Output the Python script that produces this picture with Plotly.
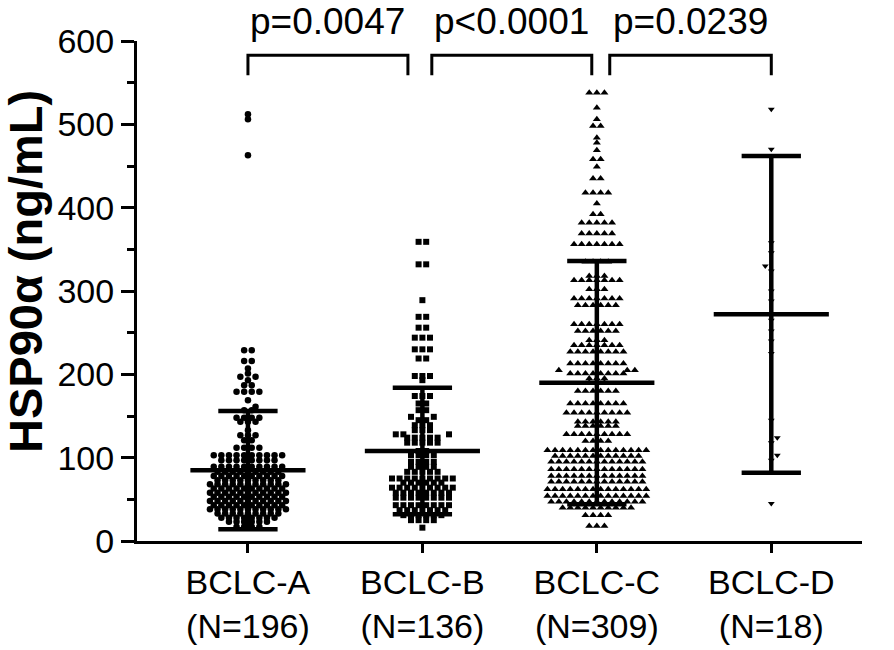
import plotly.graph_objects as go

# ---------------- data ----------------
categories = ["BCLC-A", "BCLC-B", "BCLC-C", "BCLC-D"]
n_labels = ["(N=196)", "(N=136)", "(N=309)", "(N=18)"]
y_title = "HSP90α (ng/mL)"

# value rows and number of dots in each row
a_levels = [512, 506, 463, 229, 216, 207, 201, 197, 193, 187, 179, 169, 161, 157, 148, 143, 133, 127, 121, 112,
            103, 97, 89, 83, 78, 73, 68, 63, 58, 53, 48, 43, 38, 33, 28, 23, 17]
a_counts = [1, 1, 1, 2, 2, 1, 1, 2, 1, 2, 4, 1, 1, 2, 4, 3, 1, 3, 2, 4,
            10, 8, 10, 9, 10, 9, 11, 10, 11, 10, 11, 10, 11, 9, 8, 6, 4]

b_levels = [359, 332, 289, 269, 256, 244, 230, 219, 198, 193, 174, 165, 157, 149, 145, 139, 133, 128, 124, 118,
            108, 103, 95, 89, 83, 75, 70, 64, 58, 52, 43, 37, 31, 25, 16]
b_counts = [2, 2, 1, 2, 2, 3, 3, 2, 3, 1, 3, 2, 2, 2, 2, 3, 3, 3, 5, 5,
            2, 4, 4, 4, 5, 9, 6, 9, 8, 8, 8, 7, 6, 4, 1]

c_levels = [538, 520, 506, 498, 484, 478, 469, 458, 449, 435, 418, 405, 392, 382, 369, 356,
            335, 318, 313, 302, 291, 283, 260, 252, 241, 235, 227, 213, 205, 201, 195, 190, 180,
            165, 154, 143, 138, 128, 120, 109, 102, 95, 86, 78, 71, 62, 54, 47, 40, 31, 18]
c_counts = [3, 1, 1, 2, 1, 1, 1, 2, 1, 2, 4, 1, 2, 5, 5, 7,
            4, 3, 7, 3, 7, 6, 7, 6, 3, 7, 8, 8, 3, 8, 3, 3, 6,
            8, 9, 6, 6, 9, 4, 14, 12, 13, 13, 13, 13, 14, 14, 13, 10, 4, 3]

d_values = [518, 470, 358, 346, 330, 324, 300, 288, 265, 252, 240, 225, 145, 124, 118, 103, 97, 45]

# mean and SD
means = [85, 108, 190, 272]
sds = [71, 76, 146, 190]

p_labels = ["p=0.0047", "p<0.0001", "p=0.0239"]
p_pairs = [(0.0, 0.917), (1.054, 1.971), (2.074, 3.0)]

# ---------------- layout constants ----------------
W, H = 894, 650
ML, MR, MT, MB = 137, 32, 41, 109
XR = [-0.636, 3.52]
YR = [0, 600]
PLOT_W = W - ML - MR
PLOT_H = H - MT - MB
PX_X = PLOT_W / (XR[1] - XR[0])
PX_Y = PLOT_H / (YR[1] - YR[0])
FONT = "Arial, Liberation Sans, sans-serif"


def expand(levels, counts):
    out = []
    for v, c in zip(levels, counts):
        out += [v] * c
    return out


def swarm(vals, md, hy):
    """place dots in rows: dots collide when |dy| < hy and |dx| < md (pixels)"""
    vals = sorted(vals)
    xs, ys = [], []
    for i, v in enumerate(vals):
        y = v * PX_Y
        iv = [(xj - md, xj + md) for xj, yj in zip(xs, ys) if abs(y - yj) < hy]
        cands = [0.0] + [a for a, b in iv] + [b for a, b in iv]
        sgn = 1 if i % 2 else -1
        cands.sort(key=lambda c: (round(abs(c), 6), c * sgn))
        chosen = 0.0
        for c in cands:
            if all(not (a + 1e-6 < c < b - 1e-6) for a, b in iv):
                chosen = c
                break
        xs.append(chosen)
        ys.append(y)
    # centre rows of identical values
    out_x = list(xs)
    j = 0
    while j < len(vals):
        k = j
        while k < len(vals) and vals[k] == vals[j]:
            k += 1
        if k - j > 1:
            lo = min(xs[j:k])
            hi = max(xs[j:k])
            shift = -(lo + hi) / 2
            for r in range(j, k):
                out_x[r] = xs[r] + shift
        j = k
    return vals, [x / PX_X for x in out_x]


groups = [
    (expand(a_levels, a_counts), "circle", 6.5, 7.6, 3.6),
    (expand(b_levels, b_counts), "square", 6, 7.6, 3.6),
    (expand(c_levels, c_counts), "triangle-up", 7, 7.6, 3.6),
    (d_values, "triangle-down", 6, 6.0, 6.0),
]

fig = go.Figure()
for i, (vals, sym, size, md, hy) in enumerate(groups):
    v, off = swarm(vals, md, hy)
    fig.add_trace(go.Scatter(
        x=[i + o for o in off], y=v, mode="markers",
        marker=dict(symbol=sym, size=size, color="black", line=dict(width=0)),
        showlegend=False, hoverinfo="y"))

# mean +/- SD bars
for i, (m, s) in enumerate(zip(means, sds)):
    lw = 4.5
    fig.add_trace(go.Scatter(x=[i, i], y=[m - s, m + s], mode="lines",
                             line=dict(color="black", width=lw), showlegend=False, hoverinfo="skip"))
    fig.add_trace(go.Scatter(x=[i - 0.33, i + 0.33], y=[m, m], mode="lines",
                             line=dict(color="black", width=lw), showlegend=False, hoverinfo="skip"))
    for yv in (m - s, m + s):
        fig.add_trace(go.Scatter(x=[i - 0.17, i + 0.17], y=[yv, yv], mode="lines",
                                 line=dict(color="black", width=lw), showlegend=False, hoverinfo="skip"))

# significance brackets and p-values
for (x0, x1), lab in zip(p_pairs, p_labels):
    fig.add_trace(go.Scatter(x=[x0, x0, x1, x1], y=[559, 583, 583, 559], mode="lines",
                             line=dict(color="black", width=3), showlegend=False,
                             hoverinfo="skip", cliponaxis=False))
    fig.add_annotation(x=(x0 + x1) / 2, y=(H - MB - 22) / PLOT_H, xref="x", yref="paper",
                       text=lab, showarrow=False,
                       font=dict(family=FONT, size=37, color="black"), yanchor="middle")

# y-axis title as a rotated annotation
fig.add_annotation(x=(25 - ML) / PLOT_W, y=(H - MB - 272) / PLOT_H, xref="paper", yref="paper",
                   text=f"<b>{y_title}</b>", textangle=-90, showarrow=False,
                   font=dict(family=FONT, size=47, color="black"), xanchor="center", yanchor="middle")

fig.update_layout(
    width=W, height=H, margin=dict(l=ML, r=MR, t=MT, b=MB, autoexpand=False),
    plot_bgcolor="white", paper_bgcolor="white",
    font=dict(family=FONT, color="black"),
    xaxis=dict(range=XR, showgrid=False, zeroline=False, showline=True, linecolor="black", linewidth=3,
               tickvals=[0, 1, 2, 3], ticktext=[f"{c}<br>{n}" for c, n in zip(categories, n_labels)],
               ticks="outside", ticklen=9, tickwidth=3, tickcolor="black",
               tickfont=dict(family=FONT, size=34, color="black")),
    yaxis=dict(range=YR, showgrid=False, zeroline=False, showline=True, linecolor="black", linewidth=3,
               tickvals=[0, 100, 200, 300, 400, 500, 600], ticksuffix=" ",
               ticks="outside", ticklen=13, tickwidth=3, tickcolor="black",
               minor=dict(dtick=50, ticks="outside", ticklen=7, tickwidth=3, tickcolor="black"),
               tickfont=dict(family=FONT, size=34, color="black")),
)

fig.write_html("out.html", config={"displayModeBar": False},
               post_script="document.body.style.margin='0px';")
